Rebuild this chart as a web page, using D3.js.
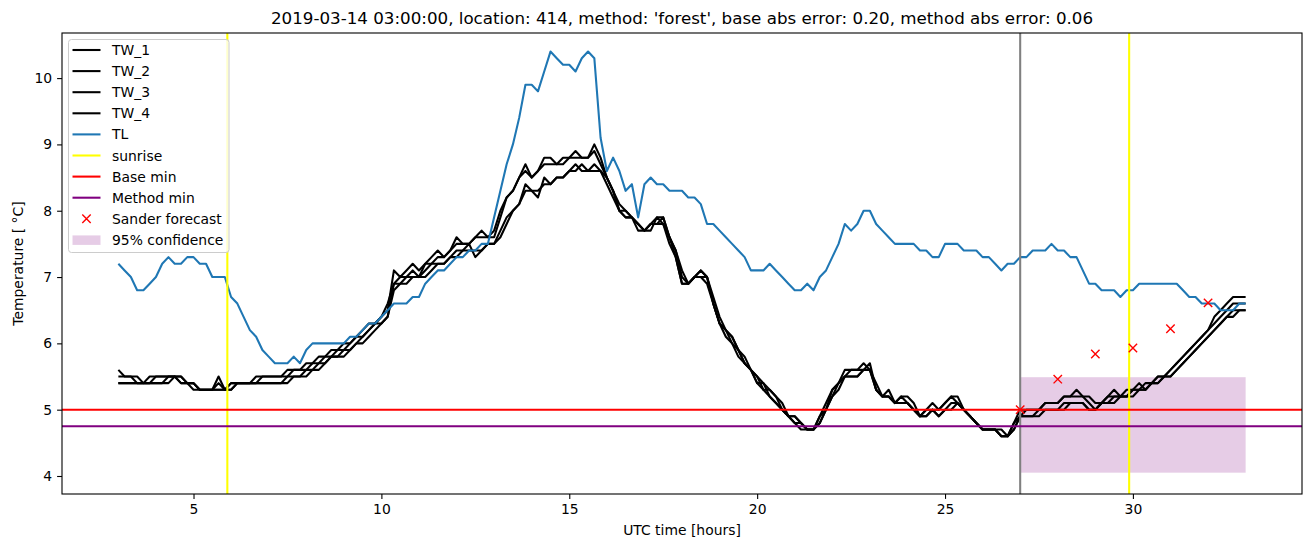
<!DOCTYPE html>
<html><head><meta charset="utf-8">
<script src="https://cdn.jsdelivr.net/npm/d3@7"></script>
<style>body{margin:0;background:#fff} svg{display:block} text{font-family:"DejaVu Sans",sans-serif;fill:#000}</style>
</head><body><svg id="chart" width="1310" height="547"></svg>
<script>
// ---- data (10-minute samples starting at 03:00, hours since start of day) ----
const startHour = 3;
const stepMinutes = 10;
const TW_1 = [
5.6,5.5,5.5,5.4,5.4,5.5, 5.5,5.5,5.5,5.5,5.5,5.4, 5.3,5.3,5.3,5.3,5.5,5.3, 5.3,5.4,5.4,5.4,5.4,5.5,
5.5,5.5,5.5,5.5,5.6,5.6, 5.7,5.7,5.8,5.8,5.9,5.9, 6.0,6.0,6.1,6.2,6.3,6.3, 6.4,6.5,7.1,7.0,7.1,7.2,
7.1,7.2,7.3,7.4,7.3,7.4, 7.6,7.5,7.5,7.6,7.7,7.6, 7.7,8.0,8.2,8.3,8.5,8.7, 8.5,8.6,8.8,8.8,8.7,8.7,
8.8,8.9,8.8,8.8,9.0,8.8, 8.5,8.3,8.1,8.0,7.9,7.8, 7.7,7.8,7.9,7.9,7.6,7.4, 7.1,6.9,7.0,7.1,7.0,6.7,
6.4,6.2,6.1,5.9,5.7,5.6, 5.5,5.4,5.3,5.2,5.1,4.9, 4.9,4.8,4.7,4.7,4.9,5.1, 5.3,5.4,5.6,5.6,5.6,5.7,
5.6,5.3,5.2,5.3,5.1,5.2, 5.2,5.1,4.9,5.0,5.1,5.0, 5.1,5.2,5.2,5.0,4.9,4.8, 4.7,4.7,4.7,4.6,4.6,4.8,
5.0,5.0,5.0,5.0,5.1,5.1, 5.1,5.2,5.2,5.3,5.2,5.2, 5.1,5.1,5.2,5.3,5.2,5.2, 5.3,5.4,5.3,5.4,5.5,5.5,
5.6,5.7,5.8,5.9,6.0,6.1, 6.2,6.4,6.5,6.6,6.7,6.7, 6.7];
const TW_2 = [
5.5,5.5,5.5,5.5,5.4,5.4, 5.5,5.5,5.5,5.5,5.4,5.4, 5.4,5.3,5.3,5.3,5.3,5.3, 5.4,5.4,5.4,5.4,5.5,5.5,
5.5,5.5,5.5,5.6,5.6,5.6, 5.6,5.7,5.7,5.8,5.8,5.9, 5.9,6.0,6.1,6.1,6.2,6.3, 6.4,6.6,6.9,7.0,7.0,7.1,
7.0,7.2,7.2,7.3,7.3,7.4, 7.5,7.5,7.5,7.6,7.6,7.6, 7.6,7.9,8.2,8.3,8.5,8.6, 8.5,8.6,8.7,8.7,8.7,8.8,
8.8,8.8,8.8,8.8,8.9,8.7, 8.5,8.3,8.0,7.9,7.9,7.8, 7.7,7.7,7.9,7.8,7.6,7.4, 7.0,6.9,7.0,7.1,7.0,6.6,
6.3,6.2,6.1,5.9,5.8,5.6, 5.5,5.3,5.3,5.2,5.0,4.9, 4.9,4.8,4.7,4.7,4.9,5.0, 5.3,5.4,5.5,5.6,5.6,5.6,
5.7,5.3,5.2,5.2,5.1,5.2, 5.1,5.0,4.9,5.0,5.0,5.0, 5.1,5.2,5.1,5.0,4.9,4.8, 4.7,4.7,4.7,4.7,4.6,4.8,
4.9,5.0,5.0,5.0,5.1,5.1, 5.1,5.2,5.2,5.2,5.2,5.1, 5.0,5.1,5.2,5.2,5.2,5.3, 5.3,5.3,5.4,5.4,5.5,5.5,
5.6,5.7,5.8,5.9,6.0,6.1, 6.2,6.3,6.4,6.5,6.6,6.6, 6.6];
const TW_3 = [
5.4,5.4,5.4,5.4,5.4,5.4, 5.4,5.4,5.5,5.5,5.4,5.4, 5.4,5.3,5.3,5.3,5.3,5.3, 5.4,5.4,5.4,5.4,5.4,5.4,
5.4,5.4,5.4,5.5,5.5,5.5, 5.6,5.6,5.7,5.7,5.8,5.8, 5.9,5.9,6.0,6.1,6.2,6.3, 6.3,6.4,6.9,6.9,7.0,7.0,
7.0,7.1,7.2,7.2,7.2,7.3, 7.4,7.4,7.5,7.3,7.4,7.5, 7.5,7.7,7.9,8.0,8.1,8.4, 8.3,8.2,8.5,8.4,8.5,8.5,
8.6,8.7,8.6,8.6,8.7,8.6, 8.5,8.3,8.0,8.0,7.9,7.8, 7.7,7.8,7.8,7.9,7.6,7.3, 6.9,6.9,7.0,7.0,7.0,6.6,
6.3,6.2,6.0,5.9,5.7,5.6, 5.4,5.4,5.2,5.1,5.0,4.9, 4.8,4.8,4.7,4.7,4.8,5.0, 5.2,5.4,5.5,5.5,5.5,5.6,
5.6,5.3,5.2,5.2,5.1,5.1, 5.1,5.0,4.9,4.9,5.0,4.9, 5.0,5.1,5.1,5.0,4.9,4.8, 4.7,4.7,4.7,4.6,4.6,4.7,
4.9,4.9,4.9,4.9,5.0,5.0, 5.0,5.1,5.1,5.1,5.1,5.0, 5.0,5.1,5.1,5.2,5.2,5.2, 5.3,5.3,5.3,5.4,5.4,5.5,
5.5,5.6,5.7,5.8,5.9,6.0, 6.1,6.2,6.3,6.4,6.5,6.5, 6.5];
const TW_4 = [
5.4,5.4,5.4,5.4,5.4,5.4, 5.4,5.4,5.4,5.5,5.5,5.4, 5.4,5.3,5.3,5.3,5.4,5.3, 5.3,5.4,5.4,5.4,5.4,5.4,
5.4,5.4,5.4,5.4,5.5,5.5, 5.5,5.6,5.6,5.7,5.8,5.8, 5.8,5.9,6.0,6.0,6.1,6.2, 6.3,6.4,6.8,6.9,6.9,7.0,
7.0,7.0,7.1,7.2,7.2,7.3, 7.3,7.4,7.4,7.4,7.4,7.5, 7.5,7.6,7.8,8.0,8.1,8.3, 8.3,8.3,8.4,8.4,8.5,8.5,
8.6,8.6,8.7,8.6,8.6,8.6, 8.4,8.2,8.0,7.9,7.9,7.7, 7.7,7.8,7.8,7.8,7.5,7.3, 6.9,6.9,7.0,7.0,6.9,6.6,
6.3,6.1,6.0,5.8,5.7,5.6, 5.4,5.3,5.2,5.1,5.0,4.9, 4.8,4.7,4.7,4.7,4.8,5.0, 5.2,5.3,5.5,5.5,5.5,5.6,
5.6,5.4,5.2,5.2,5.1,5.1, 5.1,5.0,4.9,4.9,5.0,4.9, 5.0,5.0,5.1,5.0,4.9,4.8, 4.7,4.7,4.7,4.6,4.6,4.7,
4.9,4.9,4.9,5.0,5.0,5.0, 5.0,5.0,5.1,5.1,5.1,5.0, 5.0,5.1,5.1,5.1,5.2,5.2, 5.2,5.3,5.3,5.4,5.4,5.5,
5.5,5.6,5.7,5.8,5.9,6.0, 6.1,6.2,6.3,6.4,6.4,6.5, 6.5];
const TL = [
7.2,7.1,7.0,6.8,6.8,6.9, 7.0,7.2,7.3,7.2,7.2,7.3, 7.3,7.2,7.2,7.0,7.0,7.0, 6.7,6.6,6.4,6.2,6.1,5.9,
5.8,5.7,5.7,5.7,5.8,5.7, 5.9,6.0,6.0,6.0,6.0,6.0, 6.0,6.1,6.1,6.2,6.3,6.3, 6.4,6.5,6.6,6.6,6.6,6.7,
6.7,6.9,7.0,7.1,7.1,7.2, 7.3,7.3,7.4,7.4,7.5,7.5, 7.9,8.3,8.7,9.0,9.4,9.9, 9.9,9.8,10.1,10.4,10.3,10.2,
10.2,10.1,10.3,10.4,10.3,9.1, 8.6,8.8,8.6,8.3,8.4,7.9, 8.4,8.5,8.4,8.4,8.3,8.3, 8.3,8.2,8.2,8.1,7.8,7.8,
7.7,7.6,7.5,7.4,7.3,7.1, 7.1,7.1,7.2,7.1,7.0,6.9, 6.8,6.8,6.9,6.8,7.0,7.1, 7.3,7.5,7.8,7.7,7.8,8.0,
8.0,7.8,7.7,7.6,7.5,7.5, 7.5,7.5,7.4,7.4,7.3,7.3, 7.5,7.5,7.5,7.4,7.4,7.4, 7.3,7.3,7.2,7.1,7.2,7.2,
7.3,7.3,7.4,7.4,7.4,7.5, 7.4,7.4,7.3,7.3,7.1,6.9, 6.9,6.8,6.8,6.8,6.7,6.8, 6.8,6.9,6.9,6.9,6.9,6.9,
6.9,6.9,6.8,6.7,6.7,6.6, 6.6,6.6,6.5,6.5,6.5,6.6, 6.6];
const sunriseHours = [5.9, 29.9];
const forecastHour = [27.0];
const baseMin = [5.0];
const methodMin = [4.75];
const sanderHours = [27, 28, 29, 30, 31, 32];
const sanderValues = [5.0, 5.46, 5.84, 5.93, 6.22, 6.61];
const confHours = [27.0, 33.0];
const confRange = [4.05, 5.49];
const xTickValues = [5, 10, 15, 20, 25, 30];
const yTickValues = [4, 5, 6, 7, 8, 9, 10];
const titleText = "2019-03-14 03:00:00, location: 414, method: 'forest', base abs error: 0.20, method abs error: 0.06";
const legendLabels = ["TW_1","TW_2","TW_3","TW_4","TL","sunrise","Base min","Method min","Sander forecast","95% confidence"];

// ---- layout ----
const L = 62, R = 1302, T = 33, B = 494;
const svg = d3.select("#chart");
const x = d3.scaleLinear().domain([1.5, 34.5]).range([L, R]);
const y = d3.scaleLinear().domain([3.7285, 10.68]).range([B, T]);
const hourOf = i => startHour + i * stepMinutes / 60;

svg.append("defs").append("clipPath").attr("id","clip")
  .append("rect").attr("x",L).attr("y",T).attr("width",R-L).attr("height",B-T);
const plot = svg.append("g").attr("clip-path","url(#clip)");

const LW = 2.08;
// confidence band
plot.append("rect")
  .attr("x", x(confHours[0])).attr("width", x(confHours[1]) - x(confHours[0]))
  .attr("y", y(confRange[1])).attr("height", y(confRange[0]) - y(confRange[1]))
  .attr("fill", "purple").attr("fill-opacity", 0.2);

const line = d3.line().x((d,i)=>x(hourOf(i))).y(d=>y(d));
[TW_1, TW_2, TW_3, TW_4].forEach(s => {
  plot.append("path").datum(s).attr("d", line).attr("fill","none")
    .attr("stroke","#000").attr("stroke-width",LW).attr("stroke-linejoin","round");
});
plot.append("path").datum(TL).attr("d", line).attr("fill","none")
  .attr("stroke","#1f77b4").attr("stroke-width",LW).attr("stroke-linejoin","round");

// forecast time line
forecastHour.forEach(h => plot.append("line").attr("x1",x(h)).attr("x2",x(h)).attr("y1",T).attr("y2",B)
  .attr("stroke","#808080").attr("stroke-width",LW));
sunriseHours.forEach(h => plot.append("line").attr("x1",x(h)).attr("x2",x(h)).attr("y1",T).attr("y2",B)
  .attr("stroke","#ffff00").attr("stroke-width",LW));
baseMin.forEach(v => plot.append("line").attr("x1",L).attr("x2",R).attr("y1",y(v)).attr("y2",y(v))
  .attr("stroke","#ff0000").attr("stroke-width",LW));
methodMin.forEach(v => plot.append("line").attr("x1",L).attr("x2",R).attr("y1",y(v)).attr("y2",y(v))
  .attr("stroke","#800080").attr("stroke-width",LW));

// sander forecast markers
const ms = 4.2;
const xMark = (g, cx, cy) => {
  g.append("path").attr("d", `M${cx-ms},${cy-ms}L${cx+ms},${cy+ms}M${cx-ms},${cy+ms}L${cx+ms},${cy-ms}`)
   .attr("stroke","#ff0000").attr("stroke-width",1.4).attr("fill","none");
};
sanderHours.forEach((h,i) => xMark(plot, x(h), y(sanderValues[i])));

// axes
const fs = 13.9;
const xAxis = d3.axisBottom(x).tickValues(xTickValues).tickSize(4.9).tickPadding(4.9).tickFormat(d3.format("d"));
const yAxis = d3.axisLeft(y).tickValues(yTickValues).tickSize(4.9).tickPadding(4.9).tickFormat(d3.format("d"));
const gx = svg.append("g").attr("transform",`translate(0,${B})`).call(xAxis);
const gy = svg.append("g").attr("transform",`translate(${L},0)`).call(yAxis);
[gx, gy].forEach(g => {
  g.select(".domain").remove();
  g.selectAll(".tick line").attr("stroke","#000").attr("stroke-width",1.1);
  g.selectAll(".tick text").attr("font-size",fs).attr("font-family","DejaVu Sans").attr("fill","#000");
});
svg.append("rect").attr("x",L).attr("y",T).attr("width",R-L).attr("height",B-T)
  .attr("fill","none").attr("stroke","#000").attr("stroke-width",1.1);

// labels
svg.append("text").attr("x",(L+R)/2).attr("y",24).attr("text-anchor","middle")
  .attr("font-size",16.7).text(titleText);
svg.append("text").attr("x",(L+R)/2).attr("y",535).attr("text-anchor","middle")
  .attr("font-size",fs).text("UTC time [hours]");
svg.append("text").attr("transform",`translate(23,${(T+B)/2}) rotate(-90)`).attr("text-anchor","middle")
  .attr("font-size",fs).text("Temperature [ °C]");

// legend
const lg = svg.append("g");
lg.append("rect").attr("x",68.5).attr("y",39.5).attr("width",160.5).attr("height",213)
  .attr("rx",3).attr("fill","#fff").attr("fill-opacity",0.8).attr("stroke","#cccccc").attr("stroke-width",1);
const legendColors = ["#000","#000","#000","#000","#1f77b4","#ffff00","#ff0000","#800080",null,null];
legendLabels.forEach((lab,i) => {
  const cy = 50 + i * 21.1;
  if (i < 8) {
    lg.append("line").attr("x1",72.5).attr("x2",100.5).attr("y1",cy).attr("y2",cy)
      .attr("stroke",legendColors[i]).attr("stroke-width",LW);
  } else if (i === 8) {
    xMark(lg, 86.5, cy);
  } else {
    lg.append("rect").attr("x",72.5).attr("y",cy-4.5).attr("width",28).attr("height",9.5)
      .attr("fill","purple").attr("fill-opacity",0.2);
  }
  lg.append("text").attr("x",112).attr("y",cy).attr("dy","0.36em").attr("font-size",fs).text(lab);
});
</script></body></html>
